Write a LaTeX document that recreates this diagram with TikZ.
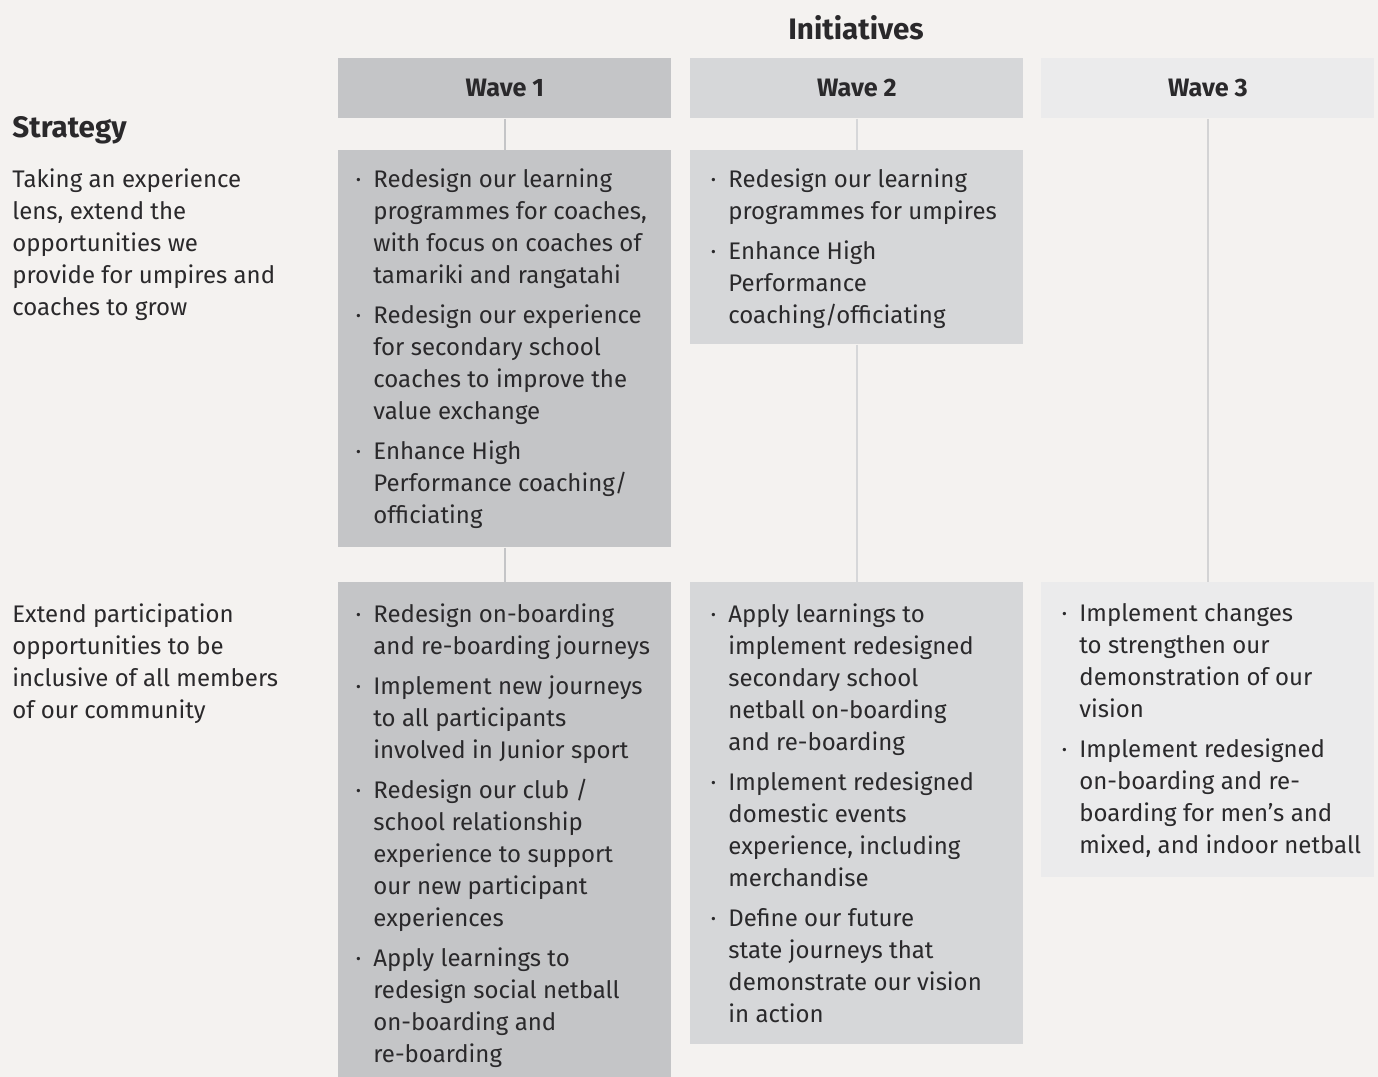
\documentclass[tikz,border=0pt]{standalone}
\usepackage{fontspec}
\setmainfont{Fira Sans}
\usetikzlibrary{positioning}
\definecolor{paper}{HTML}{F4F2F0}
\definecolor{waveone}{HTML}{C4C5C7}
\definecolor{wavetwo}{HTML}{D6D7D9}
\definecolor{wavethree}{HTML}{EBEBEC}
\definecolor{ink}{HTML}{2A292B}
\newcommand{\bul}{\llap{\textperiodcentered\hspace{6pt}}}
\tikzset{
  wave head/.style={anchor=north west,inner sep=0pt,minimum width=166.5pt,minimum height=30pt,
    text=ink,font=\bfseries\fontsize{12.6}{14}\selectfont},
  wave box/.style={anchor=north west,inner sep=0pt,minimum width=166.5pt},
  item text/.style={anchor=north west,inner sep=0pt,align=left,text=ink,
    font=\fontsize{12}{16}\selectfont},
  title text/.style={anchor=base,inner sep=0pt,text=ink,font=\bfseries\fontsize{14.8}{16}\selectfont},
  link/.style={line width=1pt}
}
\begin{document}
\begin{tikzpicture}[x=0.5pt,y=-0.5pt]
  \fill[paper] (0,0) rectangle (1378,1077);
  \useasboundingbox (0,0) rectangle (1378,1077);

  \node[title text] (init) at (856,39) {Initiatives};
  \node[title text,anchor=base west] (strat) at (12,137) {Strategy};

  % column heads
  \node[wave head,fill=waveone] (h1) at (338,58) {Wave 1};
  \node[wave head,fill=wavetwo] (h2) at (690,58) {Wave 2};
  \node[wave head,fill=wavethree] (h3) at (1041,58) {Wave 3};

  % boxes
  \node[wave box,fill=waveone,minimum height=198.5pt] (w1a) at (338,150) {};
  \node[wave box,fill=wavetwo,minimum height=97pt] (w2a) at (690,150) {};
  \node[wave box,fill=waveone,minimum height=260pt] (w1b) at (338,582) {};
  \node[wave box,fill=wavetwo,minimum height=231pt] (w2b) at (690,582) {};
  \node[wave box,fill=wavethree,minimum height=147.5pt] (w3b) at (1041,582) {};

  \draw[link,waveone] (h1) -- (w1a);
  \draw[link,waveone] (w1a) -- (w1b);
  \draw[link,wavetwo] (h2) -- (w2a);
  \draw[link,wavetwo] (w2a) -- (w2b);
  \draw[link,wavethree!90!black] (h3) -- (w3b);

  % strategy column
  \node[item text] (s1) at (12,168) {Taking an experience\\lens, extend the\\opportunities we\\provide for umpires and\\coaches to grow};
  \node[item text] (s2) at (12,603) {Extend participation\\opportunities to be\\inclusive of all members\\of our community};

  \node[item text] (t1a) at ([shift={(35,18)}]w1a.north west)
    {\bul Redesign our learning\\programmes for coaches,\\with focus on coaches of\\tamariki and rangatahi\\[4pt]
     \bul Redesign our experience\\for secondary school\\coaches to improve the\\value exchange\\[4pt]
     \bul Enhance High\\Performance coaching/\\officiating};
  \node[item text] (t2a) at ([shift={(38,18)}]w2a.north west)
    {\bul Redesign our learning\\programmes for umpires\\[4pt]
     \bul Enhance High\\Performance\\coaching/officiating};
  \node[item text] (t1b) at ([shift={(35,21)}]w1b.north west)
    {\bul Redesign on-boarding\\and re-boarding journeys\\[4pt]
     \bul Implement new journeys\\to all participants\\involved in Junior sport\\[4pt]
     \bul Redesign our club /\\school relationship\\experience to support\\our new participant\\experiences\\[4pt]
     \bul Apply learnings to\\redesign social netball\\on-boarding and\\re-boarding};
  \node[item text] (t2b) at ([shift={(38,21)}]w2b.north west)
    {\bul Apply learnings to\\implement redesigned\\secondary school\\netball on-boarding\\and re-boarding\\[4pt]
     \bul Implement redesigned\\domestic events\\experience, including\\merchandise\\[4pt]
     \bul Define our future\\state journeys that\\demonstrate our vision\\in action};
  \node[item text] (t3b) at ([shift={(38,21)}]w3b.north west)
    {\bul Implement changes\\to strengthen our\\demonstration of our\\vision\\[4pt]
     \bul Implement redesigned\\on-boarding and re-\\boarding for men’s and\\mixed, and indoor netball};
\end{tikzpicture}
\end{document}
